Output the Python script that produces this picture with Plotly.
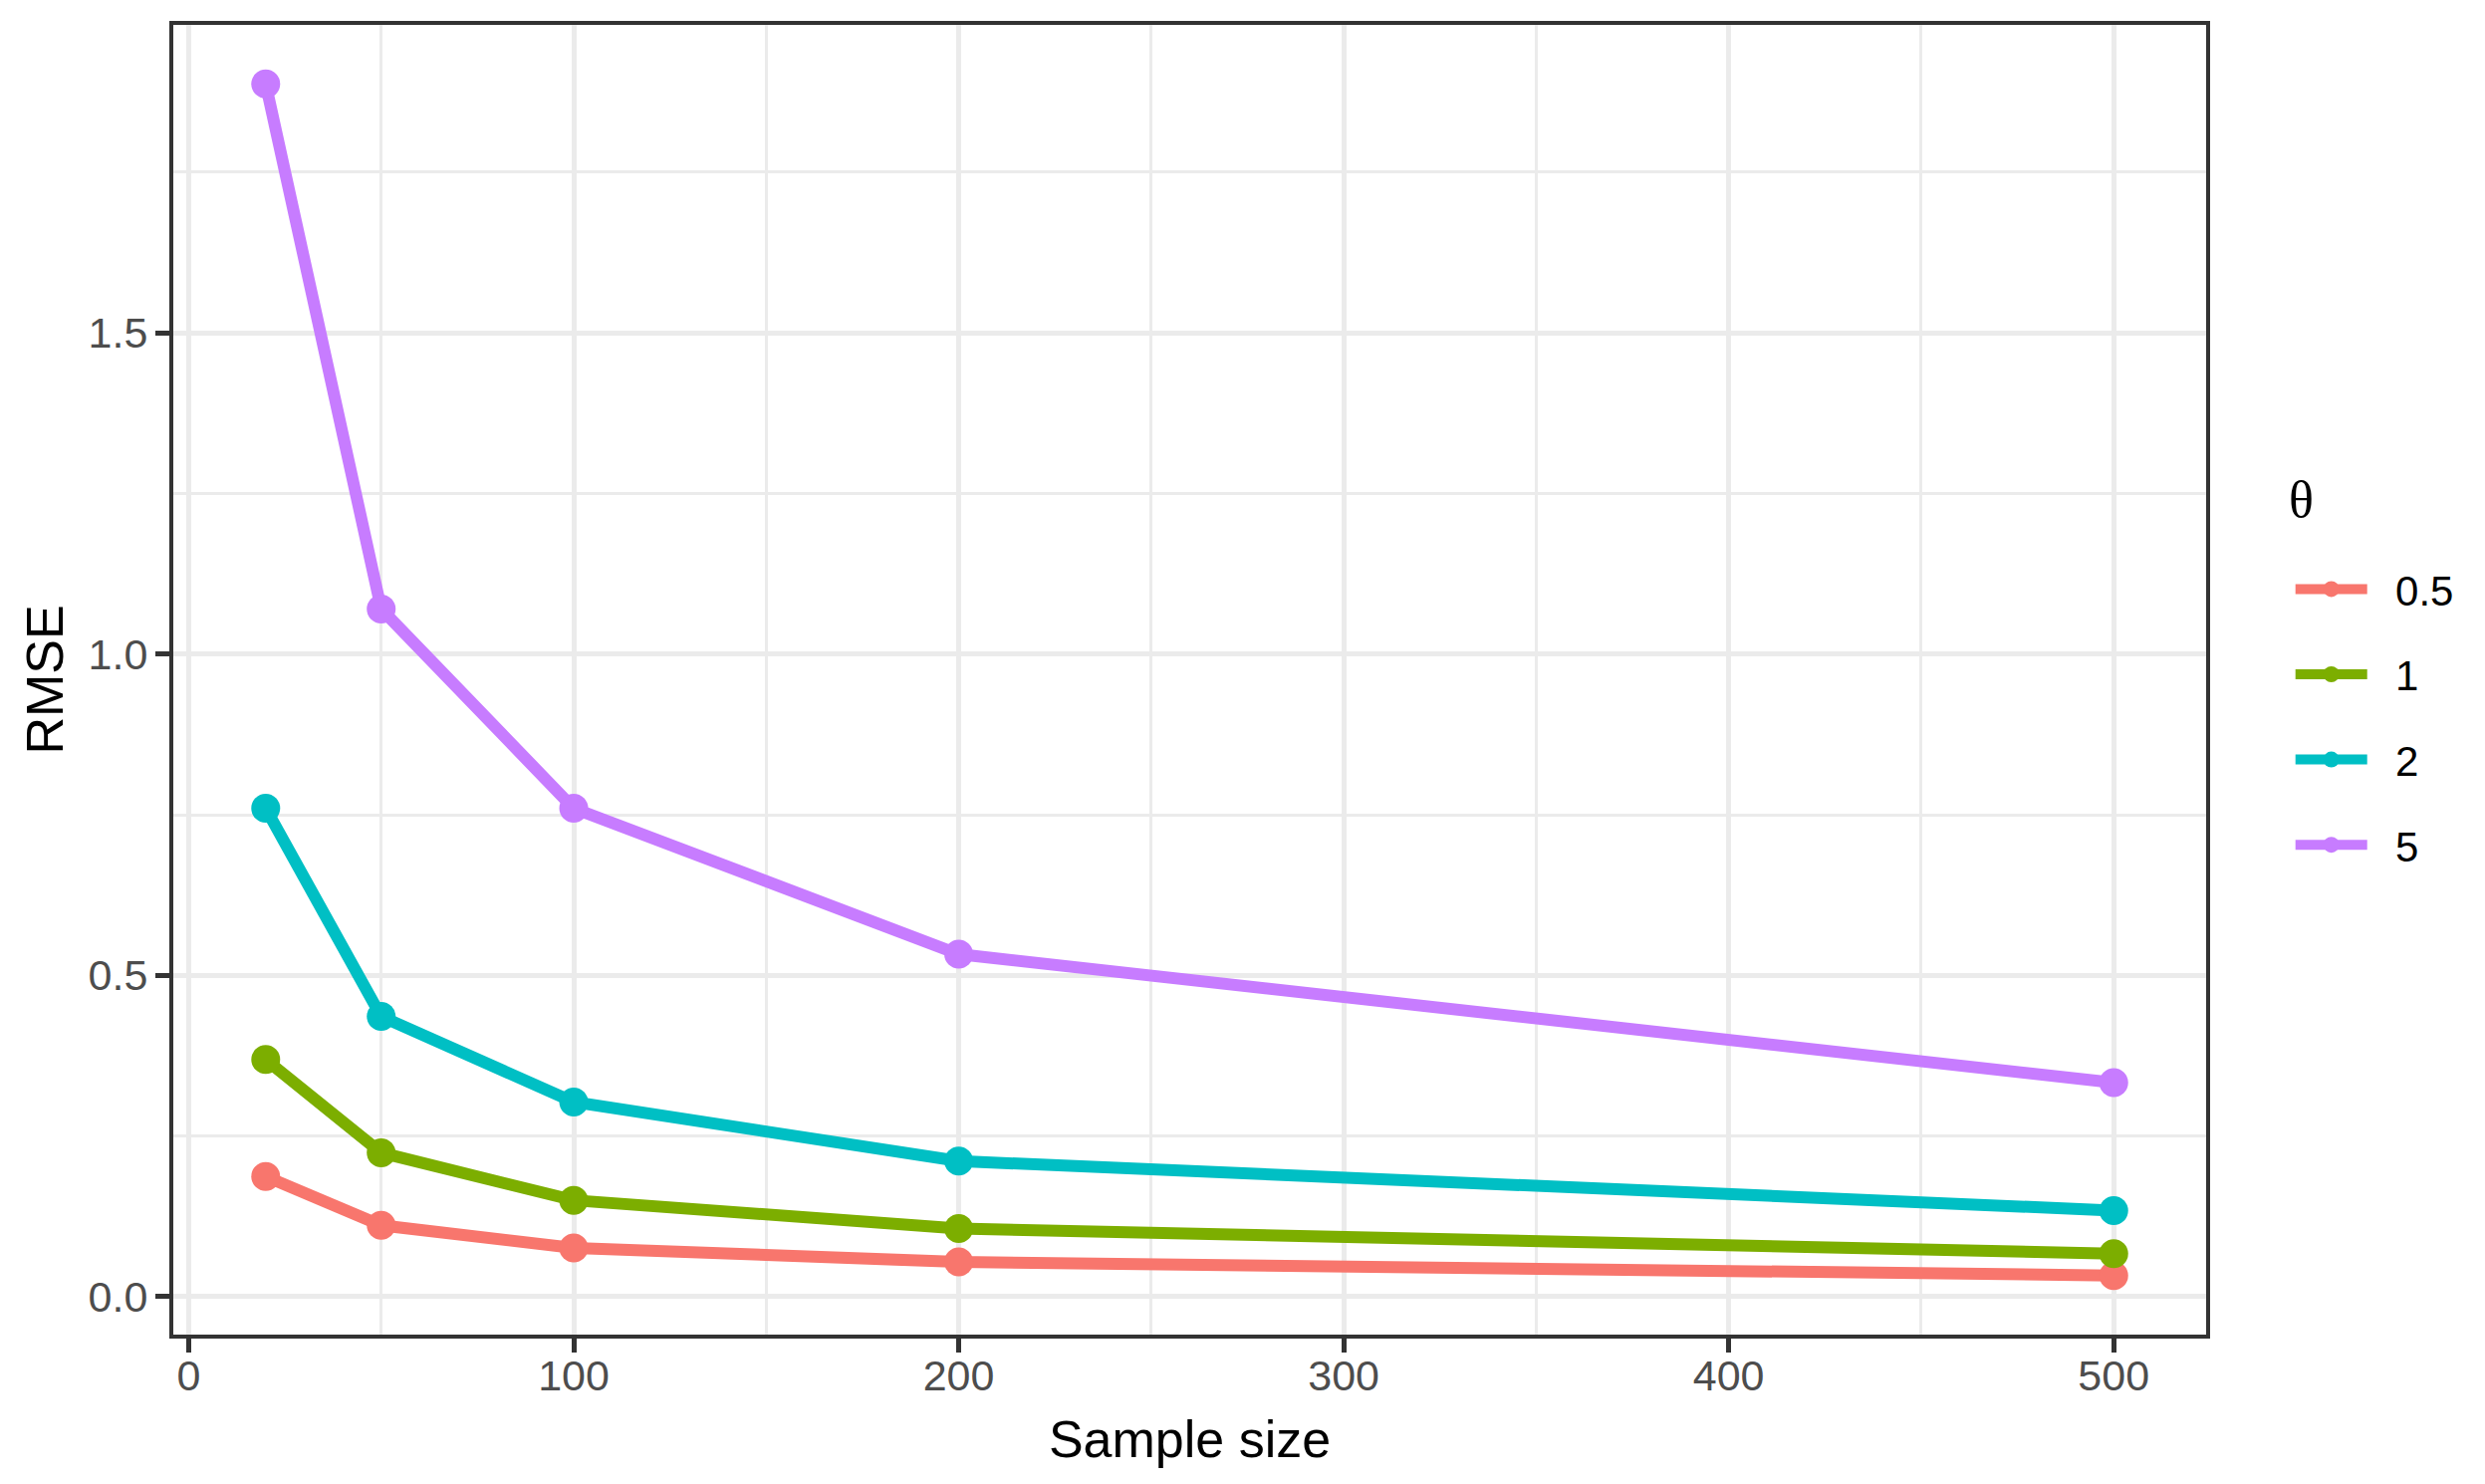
import plotly.graph_objects as go

sample_size = [20, 50, 100, 200, 500]
theta_labels = ["0.5", "1", "2", "5"]
rmse_theta_05 = [0.187, 0.111, 0.076, 0.054, 0.033]
rmse_theta_1 = [0.369, 0.224, 0.150, 0.106, 0.067]
rmse_theta_2 = [0.760, 0.436, 0.303, 0.211, 0.134]
rmse_theta_5 = [1.887, 1.070, 0.760, 0.533, 0.333]
colors = ["#F8766D", "#7CAE00", "#00BFC4", "#C77CFF"]

x_ticks = [0, 100, 200, 300, 400, 500]
y_ticks = [0.0, 0.5, 1.0, 1.5]
y_tick_text = ["0.0", "0.5", "1.0", "1.5"]

series = [rmse_theta_05, rmse_theta_1, rmse_theta_2, rmse_theta_5]

fig = go.Figure()
for lab, vals, col in zip(theta_labels, series, colors):
    fig.add_trace(go.Scatter(
        x=sample_size, y=vals, name="\u00a0\u00a0" + lab, legendgroup=lab,
        mode="lines+markers",
        line=dict(color=col, width=12),
        marker=dict(color=col, size=29),
    ))

axis_common = dict(
    showline=True, linecolor="#333333", linewidth=4, mirror=True,
    ticks="outside", ticklen=14, tickwidth=4.5, tickcolor="#333333",
    tickfont=dict(family="Liberation Sans, Arial", size=43, color="#4D4D4D"),
    showgrid=True, gridcolor="#EBEBEB", gridwidth=5.3,
    zeroline=False,
)

fig.update_xaxes(
    **axis_common,
    range=[-4, 524],
    tickvals=x_ticks,
    minor=dict(dtick=50, tick0=0, showgrid=True, gridcolor="#EBEBEB", gridwidth=2.7, ticks=""),
    title=dict(text="Sample size", font=dict(family="Liberation Sans, Arial", size=52, color="black"), standoff=24),
    ticklabelstandoff=-14,
)
fig.update_yaxes(
    **axis_common,
    range=[-0.059, 1.979],
    tickvals=y_ticks,
    ticktext=y_tick_text,
    minor=dict(dtick=0.25, tick0=0, showgrid=True, gridcolor="#EBEBEB", gridwidth=2.7, ticks=""),
    title=dict(text="RMSE", font=dict(family="Liberation Sans, Arial", size=52, color="black"), standoff=9),
    ticklabelstandoff=-1,
)

fig.add_annotation(
    text="θ", xref="paper", yref="paper", x=1.047, y=0.638,
    xanchor="center", yanchor="middle", showarrow=False,
    font=dict(family="Liberation Serif, Times New Roman", size=52, color="black"),
)

fig.update_layout(
    width=2487, height=1482,
    margin=dict(l=166, r=280, t=17, b=150, autoexpand=False),
    paper_bgcolor="white", plot_bgcolor="white",
    showlegend=True,
    legend=dict(
        font=dict(family="Liberation Sans, Arial", size=42, color="black"),
        x=1.0415, xanchor="left", y=0.595, yanchor="top",
        tracegroupgap=28, itemwidth=72,
        bgcolor="rgba(0,0,0,0)",
    ),
)

fig.write_html("out.html")
